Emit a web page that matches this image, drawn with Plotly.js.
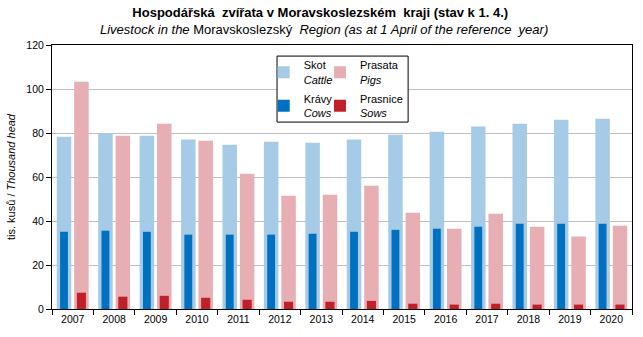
<!DOCTYPE html>
<html>
<head>
<meta charset="utf-8">
<script src="https://cdn.plot.ly/plotly-3.0.1.min.js"></script>
<style>html,body{margin:0;padding:0;background:#fff}#chart{width:643px;height:337px}</style>
</head>
<body>
<div id="chart"></div>
<script>
var years = ['2007','2008','2009','2010','2011','2012','2013','2014','2015','2016','2017','2018','2019','2020'];
var cattle = [78.3, 80.0, 78.8, 77.0, 74.7, 76.0, 75.6, 77.0, 79.2, 80.6, 82.9, 84.2, 86.0, 86.5];
var pigs   = [103.3, 78.8, 84.2, 76.5, 61.5, 51.5, 51.9, 56.0, 43.8, 36.5, 43.3, 37.4, 32.9, 37.8];
var cows   = [35.1, 35.6, 35.1, 33.8, 33.8, 33.8, 34.2, 35.1, 36.0, 36.5, 37.4, 38.8, 38.8, 38.8];
var sows   = [7.4, 5.6, 6.0, 5.1, 4.2, 3.3, 3.3, 3.7, 2.4, 2.0, 2.4, 2.0, 2.0, 2.0];

var FONT = 'Liberation Sans, Arial, sans-serif';
var traces = [
  {type:'bar', x:years, y:cattle, name:'Skot<br><i>Cattle</i>', marker:{color:'#a6cbe7'}, width:0.35, offset:-0.385, legend:'legend', legendgroup:'a', hoverinfo:'y'},
  {type:'bar', x:years, y:pigs, name:'Prasata<br><i>Pigs</i>', marker:{color:'#e7aeb3'}, width:0.35, offset:0.035, legend:'legend2', legendgroup:'c', hoverinfo:'y'},
  {type:'bar', x:years, y:cows, name:'Krávy<br><i>Cows</i>', marker:{color:'#0070c0'}, width:0.19, offset:-0.305, legend:'legend', legendgroup:'b', hoverinfo:'y'},
  {type:'bar', x:years, y:sows, name:'Prasnice<br><i>Sows</i>', marker:{color:'#c0202a'}, width:0.22, offset:0.10, legend:'legend2', legendgroup:'d', hoverinfo:'y'}
];

var legendBase = {
  bgcolor:'rgba(0,0,0,0)', borderwidth:0, font:{family:FONT, size:11, color:'#000'},
  orientation:'v', traceorder:'grouped', tracegroupgap:2, yanchor:'top', xanchor:'left', itemwidth:30
};

var layout = {
  width:643, height:337,
  margin:{l:52, r:11, t:45, b:28},
  paper_bgcolor:'#fff', plot_bgcolor:'#fff',
  barmode:'overlay',
  font:{family:FONT, size:11, color:'#000'},
  title:{
    text:'<b>Hospodářská  zvířata v Moravskoslezském  kraji (stav k 1. 4.)</b>',
    x:0.498, xanchor:'center', yref:'container', y:0.963, yanchor:'middle',
    font:{family:FONT, size:13, color:'#000'}
  },
  annotations:[{
    text:'<i>Livestock in the</i> Moravskoslezský <i> Region (as at 1 April of the reference  year)</i>',
    xref:'paper', yref:'paper', x:0.469, y:1.0587, xanchor:'center', yanchor:'middle', showarrow:false,
    font:{family:FONT, size:13, color:'#000'}
  }],
  xaxis:{
    type:'category', showline:true, linecolor:'#000', linewidth:1, mirror:true,
    ticks:'outside', tickson:'boundaries', ticklen:5, tickcolor:'#000',
    tickfont:{family:FONT, size:10.5, color:'#000'}, showgrid:false, zeroline:false
  },
  yaxis:{
    range:[0,120], dtick:20, showline:true, linecolor:'#000', linewidth:1, mirror:true,
    ticks:'outside', ticklen:5, tickcolor:'#000', gridcolor:'#bfbfbf', gridwidth:1, zeroline:false,
    tickfont:{family:FONT, size:10.5, color:'#000'},
    title:{text:'tis. kusů / <i>Thousand head</i>', font:{family:FONT, size:11, color:'#000'}, standoff:8}
  },
  showlegend:true,
  legend:Object.assign({}, legendBase, {x:0.365, y:0.976}),
  legend2:Object.assign({}, legendBase, {x:0.462, y:0.976}),
  shapes:[{type:'rect', xref:'paper', yref:'paper', x0:0.388, x1:0.614, y0:0.708, y1:0.958,
    line:{color:'#000', width:1}, fillcolor:'#fff', layer:'above'}]
};

Plotly.newPlot('chart', traces, layout, {displayModeBar:false, staticPlot:true});
</script>
</body>
</html>
